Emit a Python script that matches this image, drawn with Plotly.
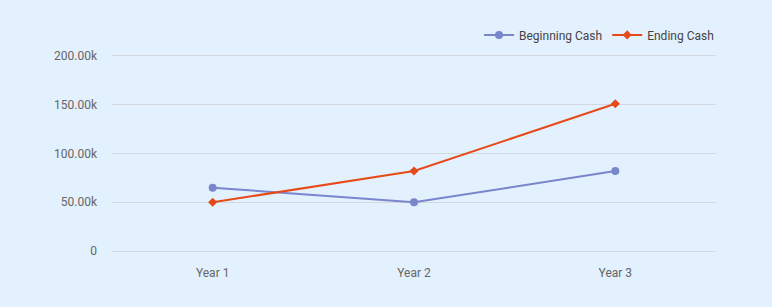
import plotly.graph_objects as go

categories = ["Year 1", "Year 2", "Year 3"]
beginning_cash = [65000, 50000, 82000]
ending_cash = [50000, 82000, 151000]
tick_vals = [0, 50000, 100000, 150000, 200000]
tick_text = ["0", "50.00k", "100.00k", "150.00k", "200.00k"]

bg = "#E3F0FD"
fig = go.Figure()
fig.add_trace(go.Scatter(
    x=categories, y=beginning_cash, name="Beginning Cash", mode="lines+markers",
    line=dict(color="#7986CB", width=2), marker=dict(symbol="circle", size=8, color="#7986CB")))
fig.add_trace(go.Scatter(
    x=categories, y=ending_cash, name="Ending Cash", mode="lines+markers",
    line=dict(color="#E64A19", width=2), marker=dict(symbol="diamond", size=7, color="#E64A19")))

fig.update_layout(
    width=772, height=307,
    paper_bgcolor=bg, plot_bgcolor=bg,
    margin=dict(l=112, r=56, t=53, b=53),
    font=dict(family="Roboto", size=12, color="#666666"),
    legend=dict(orientation="h", x=1.005, xanchor="right", y=1.09, yanchor="middle",
                bgcolor="rgba(0,0,0,0)", font=dict(size=12, color="#444444"),
                itemwidth=30),
    xaxis=dict(type="category", range=[-0.5, 2.5], showgrid=False, zeroline=False,
               showline=False, ticks="", ticklabelstandoff=10, tickfont=dict(color="#666666")),
    yaxis=dict(range=[-3000, 203000], tickvals=tick_vals, ticktext=tick_text,
               showgrid=True, gridcolor="#D3D9DF", gridwidth=1, zeroline=False,
               showline=False, ticks="", ticklabelstandoff=14),
)
fig.write_html("out.html")
